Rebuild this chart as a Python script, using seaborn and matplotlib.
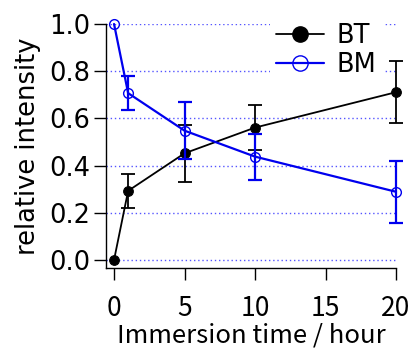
import matplotlib
matplotlib.use("Agg")
import matplotlib.pyplot as plt
import seaborn as sns
import pandas as pd
from matplotlib.lines import Line2D

time_h = [0, 1, 5, 10, 20]
bt_val = [0.0, 0.293, 0.452, 0.561, 0.711]
bt_err = [0.0, 0.073, 0.120, 0.097, 0.132]
bm_val = [1.0, 0.707, 0.548, 0.438, 0.289]
bm_err = [0.0, 0.073, 0.120, 0.097, 0.132]
x_ticks = [0, 5, 10, 15, 20]
y_ticks = [0.0, 0.2, 0.4, 0.6, 0.8, 1.0]

sns.set_style("ticks")
plt.rcParams['font.family'] = ['DejaVu Sans']
plt.rcParams['text.color'] = 'black'
plt.rcParams['axes.labelcolor'] = 'black'
JP = ["Noto Sans CJK JP", "DejaVu Sans"]

fig = plt.figure(figsize=(4.14, 3.52), dpi=100)
ax = fig.add_axes([106/414, 1-268/352, 290/414, 244/352])

df = pd.DataFrame({"t": time_h * 2, "v": bt_val + bm_val,
                   "s": ["BT"] * 5 + ["BM"] * 5})

for y in y_ticks:
    ax.axhline(y, color="#5555ff", lw=1.0, ls=(0, (1, 2)), zorder=0)

bt = df[df.s == "BT"]
bm = df[df.s == "BM"]
sns.lineplot(data=bt, x="t", y="v", ax=ax, color="black", lw=1.3,
             marker="o", markersize=7, markeredgecolor="black",
             markerfacecolor="black", clip_on=False, zorder=3)
sns.lineplot(data=bm, x="t", y="v", ax=ax, color="#0000ee", lw=1.6,
             marker="o", markersize=7, markeredgecolor="#0000ee",
             markerfacecolor="none", markeredgewidth=1.0, clip_on=False, zorder=4)
e1 = ax.errorbar(time_h[1:], bt_val[1:], yerr=bt_err[1:], fmt="none",
                 ecolor="black", elinewidth=1.3, capsize=5, capthick=1.3, zorder=3)
e2 = ax.errorbar(time_h[1:], bm_val[1:], yerr=bm_err[1:], fmt="none",
                 ecolor="#0000ee", elinewidth=1.6, capsize=5, capthick=1.6, zorder=4)
for e in (e1, e2):
    for a in list(e.lines[1]) + list(e.lines[2]):
        a.set_clip_on(False)

ax.set_xlim(-0.57, 20)
ax.set_ylim(-0.034, 1.0)
ax.set_xticks(x_ticks)
ax.set_yticks(y_ticks)
ax.set_yticklabels([f"{v:.1f}" for v in y_ticks])
ax.tick_params(axis="both", direction="out", length=8.5, width=1.0,
               labelsize=18.5, colors="black")
ax.tick_params(axis="y", pad=3)
ax.tick_params(axis="x", pad=11)
for lab in ax.get_xticklabels():
    lab.set_family(JP)
    lab.set_fontsize(19)
for s in ("top", "right"):
    ax.spines[s].set_visible(False)
for s in ("left", "bottom"):
    ax.spines[s].set_linewidth(1.0)
    ax.spines[s].set_color("black")

ax.set_xlabel("Immersion time / hour", fontsize=18.5, family=JP, labelpad=0)
ax.set_ylabel("relative intensity", fontsize=18.5, labelpad=6)

handles = [
    Line2D([], [], color="black", lw=1.3, marker="o", markersize=11,
           markerfacecolor="black"),
    Line2D([], [], color="#0000ee", lw=1.6, marker="o", markersize=11,
           markerfacecolor="none", markeredgewidth=1.0),
]
leg = ax.legend(handles, ["BT", "BM"], loc="upper left",
                bbox_to_anchor=(0.565, 1.03), fontsize=18.5, frameon=True,
                handlelength=1.85, handletextpad=0.5, labelspacing=0.1,
                borderpad=0.25, borderaxespad=0)
leg.get_frame().set_facecolor("white")
leg.get_frame().set_edgecolor("none")
leg.get_frame().set_alpha(1.0)

fig.savefig("out.png", dpi=100)
